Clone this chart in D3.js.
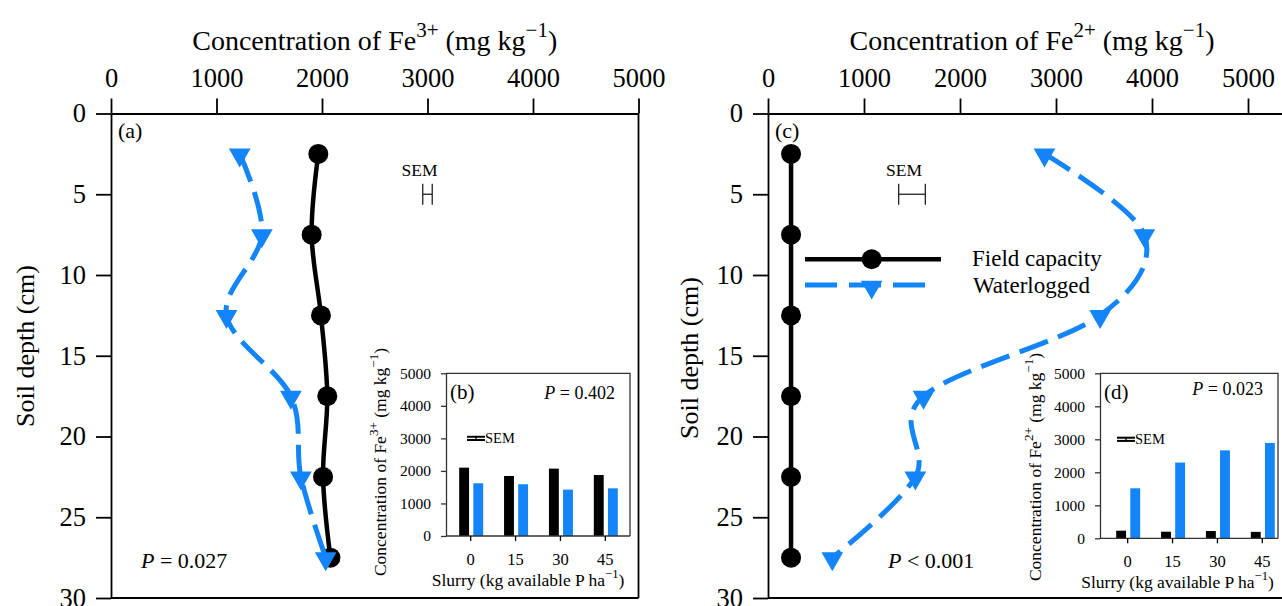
<!DOCTYPE html>
<html>
<head>
<meta charset="utf-8">
<script src="https://cdn.jsdelivr.net/npm/d3@7"></script>
<style>
  html, body { margin: 0; padding: 0; background: #fff; }
  svg text { font-family: "Liberation Serif", "Times New Roman", Tinos, "DejaVu Serif", serif; }
</style>
</head>
<body>
<svg id="fig" width="1282" height="606"></svg>
<script>
// ---- Depth profiles (sampling mid-depths, cm) ----
const depths = [2.5, 7.5, 12.5, 17.5, 22.5, 27.5];
const fe3FieldCapacity = [1965, 1902, 1990, 2050, 2010, 2080];
const fe3Waterlogged   = [1220, 1430, 1095, 1705, 1800, 2035];
const fe2FieldCapacity = [240, 240, 240, 240, 240, 240];
const fe2Waterlogged   = [2880, 3920, 3460, 1620, 1535, 670];

// ---- Slurry treatment means (insets) ----
const slurryRates  = ["0", "15", "30", "45"];
const fe3BarsField = [2100, 1845, 2070, 1875];
const fe3BarsWater = [1620, 1590, 1425, 1465];
const fe2BarsField = [230, 200, 220, 195];
const fe2BarsWater = [1515, 2295, 2665, 2890];

// ---- Tick values ----
const concTicks  = [0, 1000, 2000, 3000, 4000, 5000];
const depthTicks = [0, 5, 10, 15, 20, 25, 30];
const insetTicks = [0, 1000, 2000, 3000, 4000, 5000];
const seriesNames = ["Field capacity", "Waterlogged"];

const BLUE = "#1485f8";
const svg = d3.select("#fig");

// title with two superscripts, e.g. Concentration of Fe3+ (mg kg-1)
function concLabel(text, charge, fs) {
  const sup = fs * 0.75, rise = fs * 0.45;
  text.append("tspan").text("Concentration of Fe");
  text.append("tspan").attr("font-size", sup).attr("dy", -rise).text(charge);
  text.append("tspan").attr("dy", rise).text(" (mg kg");
  text.append("tspan").attr("font-size", sup).attr("dy", -rise).text("\u22121");
  text.append("tspan").attr("dy", rise).text(")");
}

function styleAxis(g, fs, width) {
  g.selectAll("path.domain").attr("stroke", "#000").attr("stroke-width", width);
  g.selectAll(".tick line").attr("stroke", "#000").attr("stroke-width", width);
  g.selectAll(".tick text").attr("fill", "#000").attr("font-size", fs);
}

function drawPanel(cfg) {
  const g = svg.append("g");
  const x = d3.scaleLinear().domain([0, cfg.xMax]).range([cfg.left, cfg.left + cfg.xMax * cfg.pxPer]);
  const y = d3.scaleLinear().domain([0, 30]).range([113.5, 598]);
  const [x0, x1] = x.range();

  // frame (right and bottom)
  g.append("line").attr("x1", x0).attr("x2", x1).attr("y1", y(30)).attr("y2", y(30))
    .attr("stroke", "#000").attr("stroke-width", 1.8);
  g.append("line").attr("x1", x1).attr("x2", x1).attr("y1", y(0)).attr("y2", y(30))
    .attr("stroke", "#000").attr("stroke-width", 1.8);

  const ax = g.append("g").attr("transform", `translate(0,${y(0)})`)
    .call(d3.axisTop(x).tickValues(concTicks).tickFormat(d3.format("d"))
      .tickSize(15).tickSizeOuter(0).tickPadding(11.5));
  styleAxis(ax, 26.5, 1.8);
  const ay = g.append("g").attr("transform", `translate(${x0},0)`)
    .call(d3.axisLeft(y).tickValues(depthTicks).tickSize(15).tickSizeOuter(0).tickPadding(10));
  styleAxis(ay, 26.5, 1.8);

  // axis titles
  concLabel(g.append("text").attr("x", (x0 + x1) / 2).attr("y", 50)
    .attr("text-anchor", "middle").attr("font-size", 28), cfg.charge, 28);
  g.append("text").attr("transform", `translate(${cfg.yTitleX},${cfg.yTitleY}) rotate(-90)`)
    .attr("text-anchor", "middle").attr("dy", "0.35em").attr("font-size", 26).text("Soil depth (cm)");

  // panel letter
  g.append("text").attr("x", cfg.letterX).attr("y", 137.5).attr("font-size", 22).text(cfg.letter);

  // SEM bar
  const sy = y(5), sx = x(cfg.semAt);
  const sem = g.append("g").attr("stroke", "#222").attr("stroke-width", 1.3);
  sem.append("line").attr("x1", x(cfg.semAt - cfg.semHalf)).attr("x2", x(cfg.semAt + cfg.semHalf)).attr("y1", sy).attr("y2", sy);
  [cfg.semAt - cfg.semHalf, cfg.semAt + cfg.semHalf].forEach(v =>
    sem.append("line").attr("x1", x(v)).attr("x2", x(v)).attr("y1", sy - 10.5).attr("y2", sy + 10.5));
  g.append("text").attr("x", sx - 8).attr("y", 175.5).attr("text-anchor", "middle")
    .attr("font-size", 17.5).text("SEM");

  // profiles
  const line = d3.line().x(d => x(d.v)).y(d => y(d.d)).curve(d3.curveCardinal.tension(0));
  const fc = depths.map((d, i) => ({ d, v: cfg.field[i] }));
  const wl = depths.map((d, i) => ({ d, v: cfg.water[i] }));

  g.append("path").datum(fc).attr("d", line).attr("fill", "none")
    .attr("stroke", "#000").attr("stroke-width", 4.5);
  g.selectAll(null).data(fc).join("circle")
    .attr("cx", d => x(d.v)).attr("cy", d => y(d.d)).attr("r", 10).attr("fill", "#000");

  g.append("path").datum(wl).attr("d", line).attr("fill", "none")
    .attr("stroke", BLUE).attr("stroke-width", 5).attr("stroke-dasharray", "30,11");
  const tri = d3.symbol(d3.symbolTriangle, 205);
  g.selectAll(null).data(wl).join("path")
    .attr("d", tri).attr("fill", BLUE)
    .attr("transform", d => `translate(${x(d.v)},${y(d.d) + 1}) rotate(180)`);

  // P value
  const p = g.append("text").attr("x", cfg.pX).attr("y", 567.5).attr("font-size", 22);
  p.append("tspan").attr("font-style", "italic").text("P");
  p.append("tspan").text(cfg.pText);
  return { x, y };
}

function drawInset(cfg) {
  const g = svg.append("g");
  const x0 = d3.scaleBand().domain(slurryRates).range(cfg.band).paddingOuter(0.05).paddingInner(0);
  const x1 = d3.scaleBand().domain(seriesNames).range([-11.5, 12.5]).paddingInner(0.3);
  const y = d3.scaleLinear().domain([0, 5000]).range([cfg.bottom, cfg.top]);

  g.append("rect").attr("x", cfg.left).attr("y", cfg.top).attr("width", cfg.right - cfg.left)
    .attr("height", cfg.bottom - cfg.top).attr("fill", "#fff");

  const rows = slurryRates.map((r, i) => ({ r, vals: [cfg.field[i], cfg.water[i]] }));
  const grp = g.selectAll(null).data(rows).join("g")
    .attr("transform", d => `translate(${x0(d.r) + x0.bandwidth() / 2},0)`);
  grp.selectAll("rect").data(d => d.vals.map((v, k) => ({ s: seriesNames[k], v })))
    .join("rect")
    .attr("x", d => x1(d.s)).attr("width", x1.bandwidth())
    .attr("y", d => y(d.v)).attr("height", d => y(0) - y(d.v))
    .attr("fill", d => d.s === seriesNames[0] ? "#000" : BLUE);

  // frame
  g.append("path").attr("d", `M${cfg.left},${cfg.top}H${cfg.right}V${cfg.bottom}`)
    .attr("fill", "none").attr("stroke", "#333").attr("stroke-width", 1.3);

  const ay = g.append("g").attr("transform", `translate(${cfg.left},0)`)
    .call(d3.axisLeft(y).tickValues(insetTicks).tickFormat(d3.format("d"))
      .tickSize(5).tickSizeOuter(0).tickPadding(10));
  styleAxis(ay, 15.5, 1.3);
  ay.selectAll("path.domain, .tick line").attr("stroke", "#333");
  const ax = g.append("g").attr("transform", `translate(0,${cfg.bottom})`)
    .call(d3.axisBottom(x0).tickSize(5).tickSizeOuter(0).tickPadding(12));
  styleAxis(ax, 16.5, 1.3);
  ax.selectAll("path.domain").attr("d", `M${cfg.left},0H${cfg.right}`).attr("stroke", "#333");

  // titles
  const yt = g.append("text").attr("transform", `translate(${cfg.yTitleX},${cfg.yTitleY}) rotate(-90)`)
    .attr("text-anchor", "middle").attr("dy", "0.35em").attr("font-size", 17.5);
  concLabel(yt, cfg.charge, 17.5);
  const xt = g.append("text").attr("x", cfg.xTitleX).attr("y", cfg.xTitleY).attr("text-anchor", "middle")
    .attr("font-size", 17.5);
  xt.append("tspan").text("Slurry (kg available P ha");
  xt.append("tspan").attr("font-size", 12.6).attr("dy", -8).text("\u22121");
  xt.append("tspan").attr("dy", 8).text(")");

  g.append("text").attr("x", cfg.left + 4).attr("y", 398.5).attr("font-size", 21).text(cfg.letter);
  const p = g.append("text").attr("x", cfg.right - 15).attr("y", cfg.pY).attr("text-anchor", "end").attr("font-size", 18);
  p.append("tspan").attr("font-style", "italic").text("P");
  p.append("tspan").text(cfg.pText);

  // SEM marker
  const sx = cfg.semX, sy = y(3000);
  const m = g.append("g").attr("stroke", "#000");
  m.append("line").attr("x1", sx).attr("x2", sx).attr("y1", sy - 2).attr("y2", sy + 2).attr("stroke-width", 1.3);
  [-1.6, 1.6].forEach(o => m.append("line").attr("x1", sx - 9).attr("x2", sx + 9)
    .attr("y1", sy + o).attr("y2", sy + o).attr("stroke-width", 2));
  g.append("text").attr("x", sx + 9).attr("y", sy + 5).attr("font-size", 14.5).text("SEM");
}

// (a) Fe3+ profile
drawPanel({
  left: 111, pxPer: 0.1055, xMax: 5000, charge: "3+", letter: "(a)", letterX: 118,
  field: fe3FieldCapacity, water: fe3Waterlogged,
  semAt: 3000, semHalf: 45, pX: 141, pText: " = 0.027",
  yTitleX: 25, yTitleY: 346
});
// (c) Fe2+ profile
drawPanel({
  left: 768, pxPer: 0.096, xMax: 5500, charge: "2+", letter: "(c)", letterX: 775,
  field: fe2FieldCapacity, water: fe2Waterlogged,
  semAt: 1500, semHalf: 139, pX: 888, pText: " < 0.001",
  yTitleX: 689, yTitleY: 358
});

// legend
const lg = svg.append("g");
lg.append("line").attr("x1", 805).attr("x2", 941).attr("y1", 259.3).attr("y2", 259.3)
  .attr("stroke", "#000").attr("stroke-width", 4.5);
lg.append("circle").attr("cx", 871.7).attr("cy", 259.3).attr("r", 10).attr("fill", "#000");
lg.append("line").attr("x1", 805).attr("x2", 925).attr("y1", 285).attr("y2", 285)
  .attr("stroke", BLUE).attr("stroke-width", 5).attr("stroke-dasharray", "32,12");
lg.append("path").attr("d", d3.symbol(d3.symbolTriangle, 205))
  .attr("transform", "translate(871.7,287) rotate(180)").attr("fill", BLUE);
lg.append("text").attr("x", 972).attr("y", 266).attr("font-size", 23).text(seriesNames[0]);
lg.append("text").attr("x", 973).attr("y", 293).attr("font-size", 23).text(seriesNames[1]);

// (b) and (d) insets
drawInset({
  left: 446, right: 630, top: 373.3, bottom: 536, band: [446, 630],
  field: fe3BarsField, water: fe3BarsWater, charge: "3+", letter: "(b)",
  pText: " = 0.402", pY: 399, semX: 476,
  yTitleX: 380, yTitleY: 462, xTitleX: 528, xTitleY: 586
});
drawInset({
  left: 1100, right: 1278, top: 373.3, bottom: 538.3, band: [1103, 1287],
  field: fe2BarsField, water: fe2BarsWater, charge: "2+", letter: "(d)",
  pText: " = 0.023", pY: 395, semX: 1126,
  yTitleX: 1035, yTitleY: 467, xTitleX: 1177.5, xTitleY: 588
});
</script>
</body>
</html>
